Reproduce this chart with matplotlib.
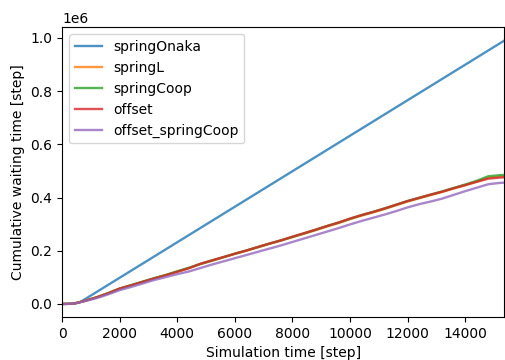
import matplotlib
matplotlib.use("Agg")
import matplotlib.pyplot as plt

steps = [0, 400, 800, 1200, 1600, 2000, 2400, 2800, 3200, 3600, 4000,
         4400, 4800, 5200, 5600, 6000, 6400, 6800, 7200, 7600, 8000,
         8400, 8800, 9200, 9600, 10000, 10400, 10800, 11200, 11600, 12000,
         12400, 12800, 13200, 13600, 14000, 14400, 14800, 15200, 15360]

onaka_steps = [0, 300, 600, 15360]
springOnaka = [0, 1000, 5000, 990000]

springL = [0, 1000, 12000, 25000, 40000, 57000, 70000, 83000, 96000, 108000, 121000,
           135000, 150000, 162000, 175000, 188000, 200000, 213000, 226000, 238000, 251000,
           264000, 277000, 291000, 304000, 319000, 332000, 344000, 357000, 371000, 385000,
           397000, 409000, 421000, 434000, 446000, 460000, 474000, 479000, 480000]

springCoop = [0, 1000, 12000, 25000, 41000, 58000, 71000, 84000, 97000, 109000, 123000,
              136000, 150000, 163000, 176000, 189000, 201000, 214000, 227000, 239000, 252000,
              265000, 279000, 293000, 306000, 320000, 334000, 346000, 359000, 373000, 387000,
              399000, 411000, 423000, 436000, 449000, 463000, 480000, 484000, 485000]

offset = [0, 1000, 12000, 25000, 40000, 58000, 70000, 83000, 96000, 108000, 121000,
          134000, 151000, 164000, 176000, 189000, 201000, 214000, 227000, 239000, 253000,
          266000, 279000, 293000, 306000, 321000, 334000, 346000, 359000, 373000, 387000,
          399000, 411000, 422000, 435000, 447000, 459000, 471000, 475000, 476000]

offset_springCoop = [0, 1000, 11000, 22000, 36000, 52000, 64000, 77000, 90000, 101000, 112000,
                     122000, 135000, 148000, 160000, 172000, 184000, 196000, 208000, 220000, 233000,
                     246000, 259000, 272000, 285000, 299000, 312000, 324000, 336000, 349000, 363000,
                     375000, 385000, 396000, 410000, 424000, 437000, 450000, 455000, 456000]

fig = plt.figure(figsize=(5.05, 3.6), dpi=100)
ax = fig.add_axes([0.1228, 0.119, 0.876, 0.805])

# lines were drawn semi-transparent in the original
ax.plot(onaka_steps, springOnaka, label="springOnaka", alpha=0.8, lw=1.7)
ax.plot(steps, springL, label="springL", alpha=0.8, lw=1.7)
ax.plot(steps, springCoop, label="springCoop", alpha=0.8, lw=1.7)
ax.plot(steps, offset, label="offset", alpha=0.8, lw=1.7)
ax.plot(steps, offset_springCoop, label="offset_springCoop", alpha=0.8, lw=1.7)

ax.set_xlim(0, 15360)
ax.set_xlabel("Simulation time [step]")
ax.set_ylabel("Cumulative waiting time [step]")
ax.legend(loc="upper left")

fig.savefig("out.png", dpi=100)
